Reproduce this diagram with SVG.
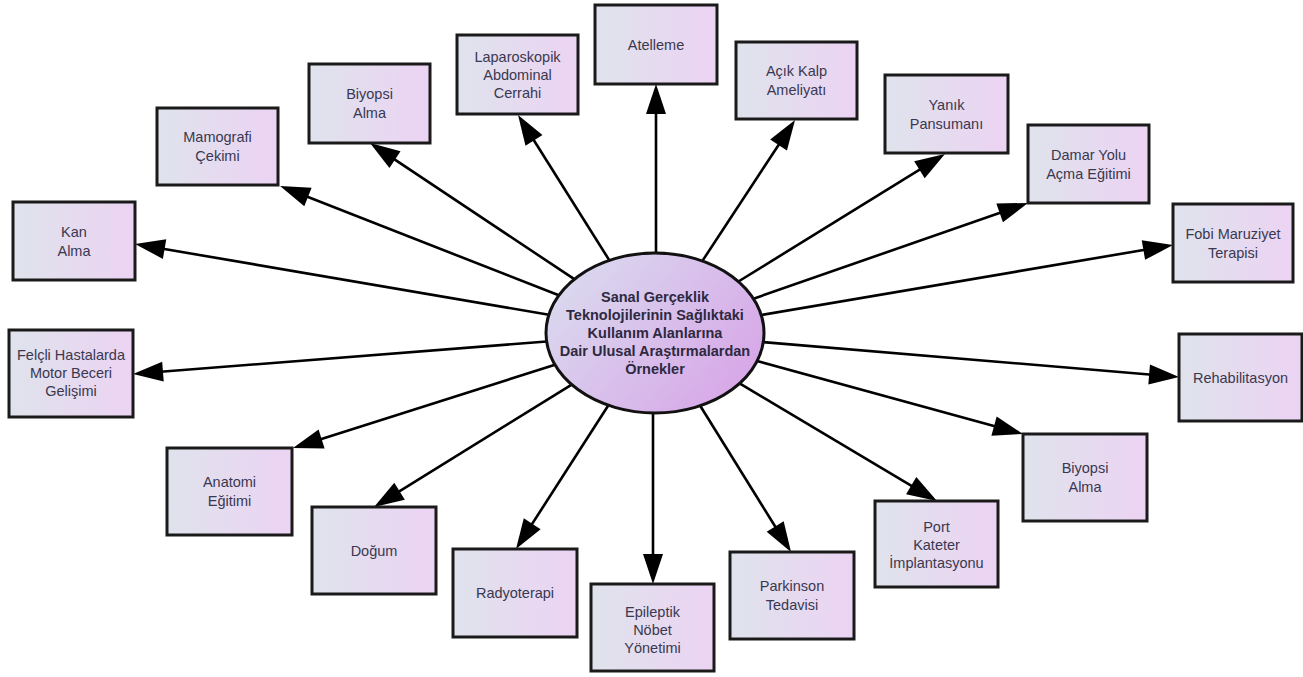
<svg xmlns="http://www.w3.org/2000/svg" width="1303" height="677" viewBox="0 0 1303 677">
<style>
.box{fill:url(#bg);stroke:#1a1a1a;stroke-width:3}
.t{font-family:"Liberation Sans",Arial,sans-serif;font-size:14.5px;fill:#3a3850;text-anchor:middle}
.c{font-family:"Liberation Sans",Arial,sans-serif;font-size:14.5px;font-weight:bold;fill:#2e2940;text-anchor:middle}
.e{stroke:#000;stroke-width:2.6;fill:none;marker-end:url(#ah)}
</style>
<defs>
<linearGradient id="bg" x1="0" y1="0" x2="1" y2="0">
<stop offset="0" stop-color="#dfe3ec"/>
<stop offset="1" stop-color="#ecd3f3"/>
</linearGradient>
<linearGradient id="eg" x1="0" y1="0.2" x2="1" y2="0.8">
<stop offset="0" stop-color="#dadbef"/>
<stop offset="1" stop-color="#d7a4e7"/>
</linearGradient>
<marker id="ah" markerUnits="userSpaceOnUse" markerWidth="30" markerHeight="20" refX="15" refY="10" orient="auto" overflow="visible">
<path d="M0,0 L30,10 L0,20 z" fill="#000"/>
</marker>
</defs>
<rect width="1303" height="677" fill="#fff"/>
<g id="connectors">
<line class="e" x1="548.9" y1="314.8" x2="149.8" y2="246.5"/>
<line class="e" x1="546.6" y1="341.5" x2="148.0" y2="372.8"/>
<line class="e" x1="558.8" y1="295.3" x2="294.0" y2="191.5"/>
<line class="e" x1="574.3" y1="279.2" x2="382.5" y2="151.3"/>
<line class="e" x1="609.4" y1="260.4" x2="526.0" y2="127.7"/>
<line class="e" x1="656" y1="253" x2="656" y2="99"/>
<line class="e" x1="702.4" y1="260.9" x2="786.8" y2="132.5"/>
<line class="e" x1="738.4" y1="281.5" x2="932.2" y2="161.9"/>
<line class="e" x1="753.5" y1="298.7" x2="1013.8" y2="207.9"/>
<line class="e" x1="761.2" y1="315.0" x2="1158.2" y2="247.5"/>
<line class="e" x1="763.3" y1="342.1" x2="1164.1" y2="375.7"/>
<line class="e" x1="757.1" y1="361.0" x2="1008.5" y2="430.0"/>
<line class="e" x1="739.6" y1="383.4" x2="924.1" y2="493.3"/>
<line class="e" x1="700.2" y1="405.8" x2="783.1" y2="539.3"/>
<line class="e" x1="653" y1="413" x2="653" y2="569"/>
<line class="e" x1="608.4" y1="405.3" x2="524.1" y2="536.4"/>
<line class="e" x1="571.7" y1="384.6" x2="386.8" y2="499.1"/>
<line class="e" x1="555.0" y1="364.8" x2="307.3" y2="443.5"/>
</g>
<g id="center">
<ellipse cx="655" cy="333" rx="109" ry="80" fill="url(#eg)" stroke="#111" stroke-width="3"/>
<text class="c" x="655" y="302">Sanal Gerçeklik</text>
<text class="c" x="655" y="320">Teknolojilerinin Sağlıktaki</text>
<text class="c" x="655" y="338">Kullanım Alanlarına</text>
<text class="c" x="655" y="356">Dair Ulusal Araştırmalardan</text>
<text class="c" x="655" y="374">Örnekler</text>
</g>
<g id="kan-alma"><rect class="box" x="13" y="202" width="122" height="78"/><text class="t" x="74" y="237">Kan</text><text class="t" x="74" y="256">Alma</text></g>
<g id="felcli"><rect class="box" x="9" y="330" width="124" height="87"/><text class="t" x="71" y="360">Felçli Hastalarda</text><text class="t" x="71" y="378">Motor Beceri</text><text class="t" x="71" y="396">Gelişimi</text></g>
<g id="mamografi"><rect class="box" x="157" y="108" width="121" height="77"/><text class="t" x="217.5" y="142">Mamografi</text><text class="t" x="217.5" y="161">Çekimi</text></g>
<g id="biyopsi1"><rect class="box" x="309" y="64" width="121" height="79"/><text class="t" x="369.5" y="99">Biyopsi</text><text class="t" x="369.5" y="118">Alma</text></g>
<g id="laparoskopik"><rect class="box" x="457" y="35" width="121" height="79"/><text class="t" x="517.5" y="62">Laparoskopik</text><text class="t" x="517.5" y="80">Abdominal</text><text class="t" x="517.5" y="98">Cerrahi</text></g>
<g id="atelleme"><rect class="box" x="595" y="5" width="122" height="79"/><text class="t" x="656" y="50">Atelleme</text></g>
<g id="acik-kalp"><rect class="box" x="736" y="42" width="121" height="77"/><text class="t" x="796.5" y="76">Açık Kalp</text><text class="t" x="796.5" y="95">Ameliyatı</text></g>
<g id="yanik"><rect class="box" x="885" y="75" width="123" height="78"/><text class="t" x="946.5" y="110">Yanık</text><text class="t" x="946.5" y="129">Pansumanı</text></g>
<g id="damar"><rect class="box" x="1028" y="125" width="121" height="78"/><text class="t" x="1088.5" y="160">Damar Yolu</text><text class="t" x="1088.5" y="179">Açma Eğitimi</text></g>
<g id="fobi"><rect class="box" x="1173" y="204" width="120" height="78"/><text class="t" x="1233" y="239">Fobi Maruziyet</text><text class="t" x="1233" y="258">Terapisi</text></g>
<g id="rehab"><rect class="box" x="1179" y="334" width="123" height="87"/><text class="t" x="1240.5" y="383">Rehabilitasyon</text></g>
<g id="biyopsi2"><rect class="box" x="1023" y="434" width="124" height="87"/><text class="t" x="1085" y="473">Biyopsi</text><text class="t" x="1085" y="492">Alma</text></g>
<g id="port"><rect class="box" x="875" y="501" width="123" height="86"/><text class="t" x="936.5" y="532">Port</text><text class="t" x="936.5" y="550">Kateter</text><text class="t" x="936.5" y="568">İmplantasyonu</text></g>
<g id="parkinson"><rect class="box" x="730" y="552" width="124" height="87"/><text class="t" x="792" y="591">Parkinson</text><text class="t" x="792" y="610">Tedavisi</text></g>
<g id="epileptik"><rect class="box" x="591" y="584" width="123" height="87"/><text class="t" x="652.5" y="617">Epileptik</text><text class="t" x="652.5" y="635">Nöbet</text><text class="t" x="652.5" y="653">Yönetimi</text></g>
<g id="radyoterapi"><rect class="box" x="453" y="549" width="124" height="88"/><text class="t" x="515" y="598">Radyoterapi</text></g>
<g id="dogum"><rect class="box" x="312" y="507" width="124" height="87"/><text class="t" x="374" y="556">Doğum</text></g>
<g id="anatomi"><rect class="box" x="167" y="448" width="125" height="87"/><text class="t" x="229.5" y="487">Anatomi</text><text class="t" x="229.5" y="506">Eğitimi</text></g>
</svg>
